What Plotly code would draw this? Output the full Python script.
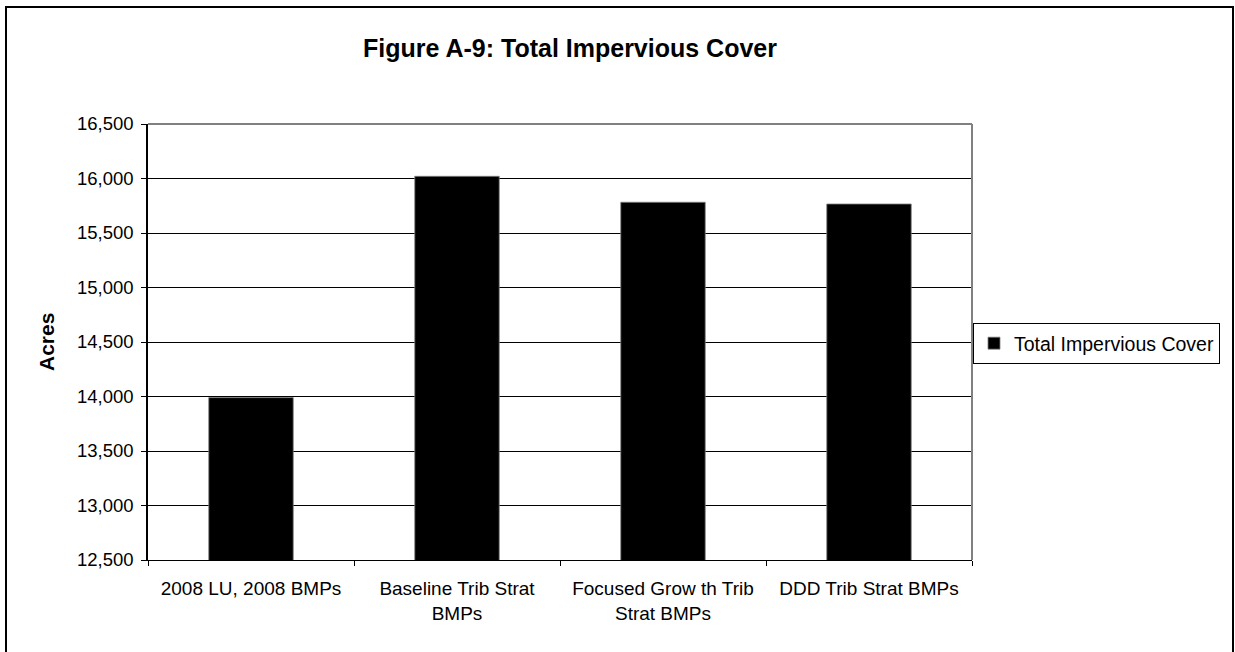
import plotly.graph_objects as go

# Scenario labels along the x axis
categories = [
    "2008 LU, 2008 BMPs",
    "Baseline Trib Strat<br>BMPs",
    "Focused Grow th Trib<br>Strat BMPs",
    "DDD Trib Strat BMPs",
]
# Total impervious cover per scenario (acres)
impervious_acres = [13990, 16020, 15782, 15766]

y_ticks = [12500, 13000, 13500, 14000, 14500, 15000, 15500, 16000, 16500]
y_tick_text = ["12,500", "13,000", "13,500", "14,000", "14,500",
               "15,000", "15,500", "16,000", "16,500"]

FONT = "Liberation Sans, Arial, sans-serif"
W, H = 1235, 652
L, R, T, B = 148, 263, 124, 92
plot_w = W - L - R
plot_h = H - T - B


def px_x(px):
    return (px - L) / plot_w


def px_y(py):
    return (H - B - py) / plot_h


fig = go.Figure()
fig.add_trace(go.Bar(
    x=categories,
    y=impervious_acres,
    name="Total Impervious Cover",
    marker=dict(color="#000000", line=dict(color="#7f7f7f", width=0.8)),
))

fig.update_layout(
    width=W, height=H,
    margin=dict(l=L, r=R, t=T, b=B),
    paper_bgcolor="white",
    plot_bgcolor="white",
    font=dict(family=FONT, color="#000000", size=18),
    bargap=0.59,
    title=dict(
        text="<b>Figure A-9: Total Impervious Cover</b>",
        font=dict(family=FONT, size=25, color="#000000"),
        x=px_x(570), xref="paper", xanchor="center",
        y=1 - 48 / H, yref="container", yanchor="middle",
    ),
    showlegend=True,
    legend=dict(
        x=px_x(973), y=px_y(323), xanchor="left", yanchor="top",
        bordercolor="#000000", borderwidth=1,
        font=dict(family=FONT, size=19.5, color="#000000"),
        bgcolor="white",
    ),
    xaxis=dict(
        type="category",
        showline=True, linecolor="#000000", linewidth=1,
        ticks="outside", tickson="boundaries", ticklen=5,
        tickcolor="#000000", tickwidth=1,
        showgrid=False,
        tickfont=dict(family=FONT, size=19),
        ticklabelstandoff=11,
    ),
    yaxis=dict(
        range=[12500, 16500],
        tickvals=y_ticks, ticktext=y_tick_text,
        showline=True, linecolor="#000000", linewidth=1.5,
        ticks="outside", ticklen=5, tickcolor="#000000", tickwidth=1,
        showgrid=True, gridcolor="#000000", gridwidth=1,
        zeroline=False,
        tickfont=dict(family=FONT, size=18.5),
        ticklabelstandoff=4,
    ),
    annotations=[
        dict(text="<b>Acres</b>", xref="paper", yref="paper",
             x=px_x(46), y=0.5, xanchor="center", yanchor="middle",
             textangle=-90, showarrow=False,
             font=dict(family=FONT, size=21, color="#000000")),
    ],
    shapes=[
        # plot-area frame on the top and right
        dict(type="line", xref="paper", yref="paper", x0=0, x1=1, y0=1, y1=1,
             line=dict(color="#808080", width=2), layer="above"),
        dict(type="line", xref="paper", yref="paper", x0=1, x1=1, y0=0, y1=1,
             line=dict(color="#808080", width=2), layer="above"),
        # outer chart border
        dict(type="rect", xref="paper", yref="paper",
             x0=px_x(6), x1=px_x(1233), y0=px_y(670), y1=px_y(7),
             line=dict(color="#000000", width=2), layer="below"),
    ],
)

fig.write_html("out.html")
